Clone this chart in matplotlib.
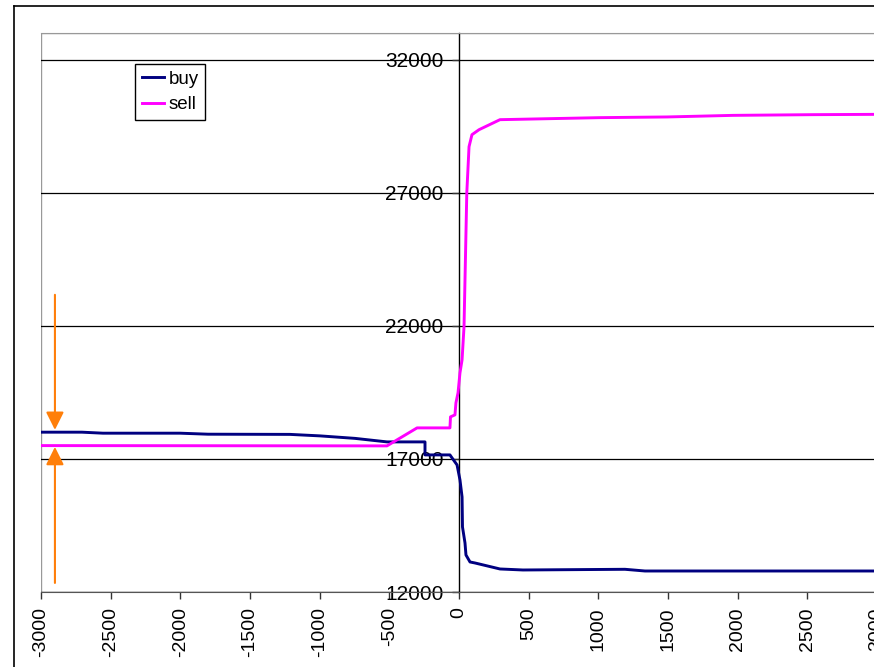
import numpy as np
import matplotlib
matplotlib.use("Agg")
import matplotlib.pyplot as plt
from matplotlib.lines import Line2D
from matplotlib.patches import Rectangle

plt.rcParams['font.family'] = ['Liberation Sans', 'DejaVu Sans']

# buy / sell curves
buy_x = [-3000, -2706, -2555, -2002, -1801, -1213, -998, -746, -517, -244, -244,
         -65, -50, -14, 7, 22, 25, 43, 50, 79, 115, 294, 459, 1191, 1335, 3000]
buy_y = [18004, 18004, 17966, 17966, 17928, 17921, 17865, 17771, 17639, 17639, 17150,
         17150, 17038, 16774, 16210, 15571, 14444, 13842, 13391, 13128, 13090, 12865,
         12827, 12853, 12789, 12789]

sell_x = [-3000, -517, -301, -65, -61, -29, -22, -7, 7, 22, 36, 56, 72, 93, 144,
          294, 1012, 1493, 1967, 2541, 3000]
sell_y = [17500, 17489, 18165, 18165, 18579, 18654, 19105, 19481, 20233, 20722, 21962,
          27000, 28729, 29180, 29368, 29744, 29820, 29846, 29906, 29932, 29944]

x_ticks = list(range(-3000, 3001, 500))
x_labels = [str(v) for v in x_ticks]
y_ticks = [12000, 17000, 22000, 27000, 32000]

# orange marker arrows (spread between buy and sell)
arrow_x = -2900
arrow_down = (23165, 18090)
arrow_up = (12340, 17450)

W, H = 874, 667
fig = plt.figure(figsize=(W / 100, H / 100), dpi=100)
ax = fig.add_axes([41 / W, 1 - 592 / H, 836 / W, (592 - 33) / H])

ax.plot(buy_x, buy_y, color='#000080', lw=2.1, label='buy', zorder=3)
ax.plot(sell_x, sell_y, color='#FF00FF', lw=2.1, label='sell', zorder=3)

ax.set_xlim(-3000, 3000)
ax.set_ylim(12000, 33000)

ax.spines['left'].set_position(('data', 0))
ax.spines['left'].set_color('black')
ax.spines['left'].set_linewidth(1.0)
ax.spines['bottom'].set_color('#555555')
ax.spines['top'].set_color('#999999')
ax.spines['right'].set_color('#999999')
# plot-area border on the left
ax.add_patch(Rectangle((0, 0), 1, 1, transform=ax.transAxes, fill=False,
                       edgecolor='#999999', lw=1.0, zorder=0.5))

ax.set_xticks(x_ticks)
ax.set_xticklabels(x_labels, rotation=90, fontsize=14)
ax.set_yticks(y_ticks)
ax.set_yticklabels([str(v) for v in y_ticks], fontsize=15)
ax.tick_params(axis='both', direction='out', length=5, width=1, color='#333333')
ax.tick_params(axis='y', pad=6)
ax.tick_params(axis='x', pad=6)
for lab in ax.get_yticklabels():
    lab.set_zorder(1)
ax.yaxis.grid(True, color='black', lw=0.9)
ax.set_axisbelow(True)

arrow_props = dict(arrowstyle='-|>,head_length=0.72,head_width=0.36', mutation_scale=15,
                   color='#FF7F0A', lw=1.5, shrinkA=0, shrinkB=0)
ax.annotate('', xy=(arrow_x, arrow_down[1]), xytext=(arrow_x, arrow_down[0]),
            arrowprops=arrow_props, zorder=4)
ax.annotate('', xy=(arrow_x, arrow_up[1]), xytext=(arrow_x, arrow_up[0]),
            arrowprops=arrow_props, zorder=4)

leg = ax.legend(loc='upper left', bbox_to_anchor=(135 / W, 1 - 64 / H),
                bbox_transform=fig.transFigure, fontsize=13.5, frameon=True,
                fancybox=False, shadow=False, framealpha=1, edgecolor='black',
                handlelength=1.2, handletextpad=0.25, borderpad=0.35,
                labelspacing=0.45, borderaxespad=0)
leg.get_frame().set_linewidth(1.0)

# outer chart-area frame
fig.add_artist(Line2D([14 / W, 14 / W], [0, 1 - 6 / H], color='black', lw=1.2))
fig.add_artist(Line2D([14 / W, 1], [1 - 6 / H, 1 - 6 / H], color='black', lw=1.2))

fig.savefig('out.png', dpi=100)
